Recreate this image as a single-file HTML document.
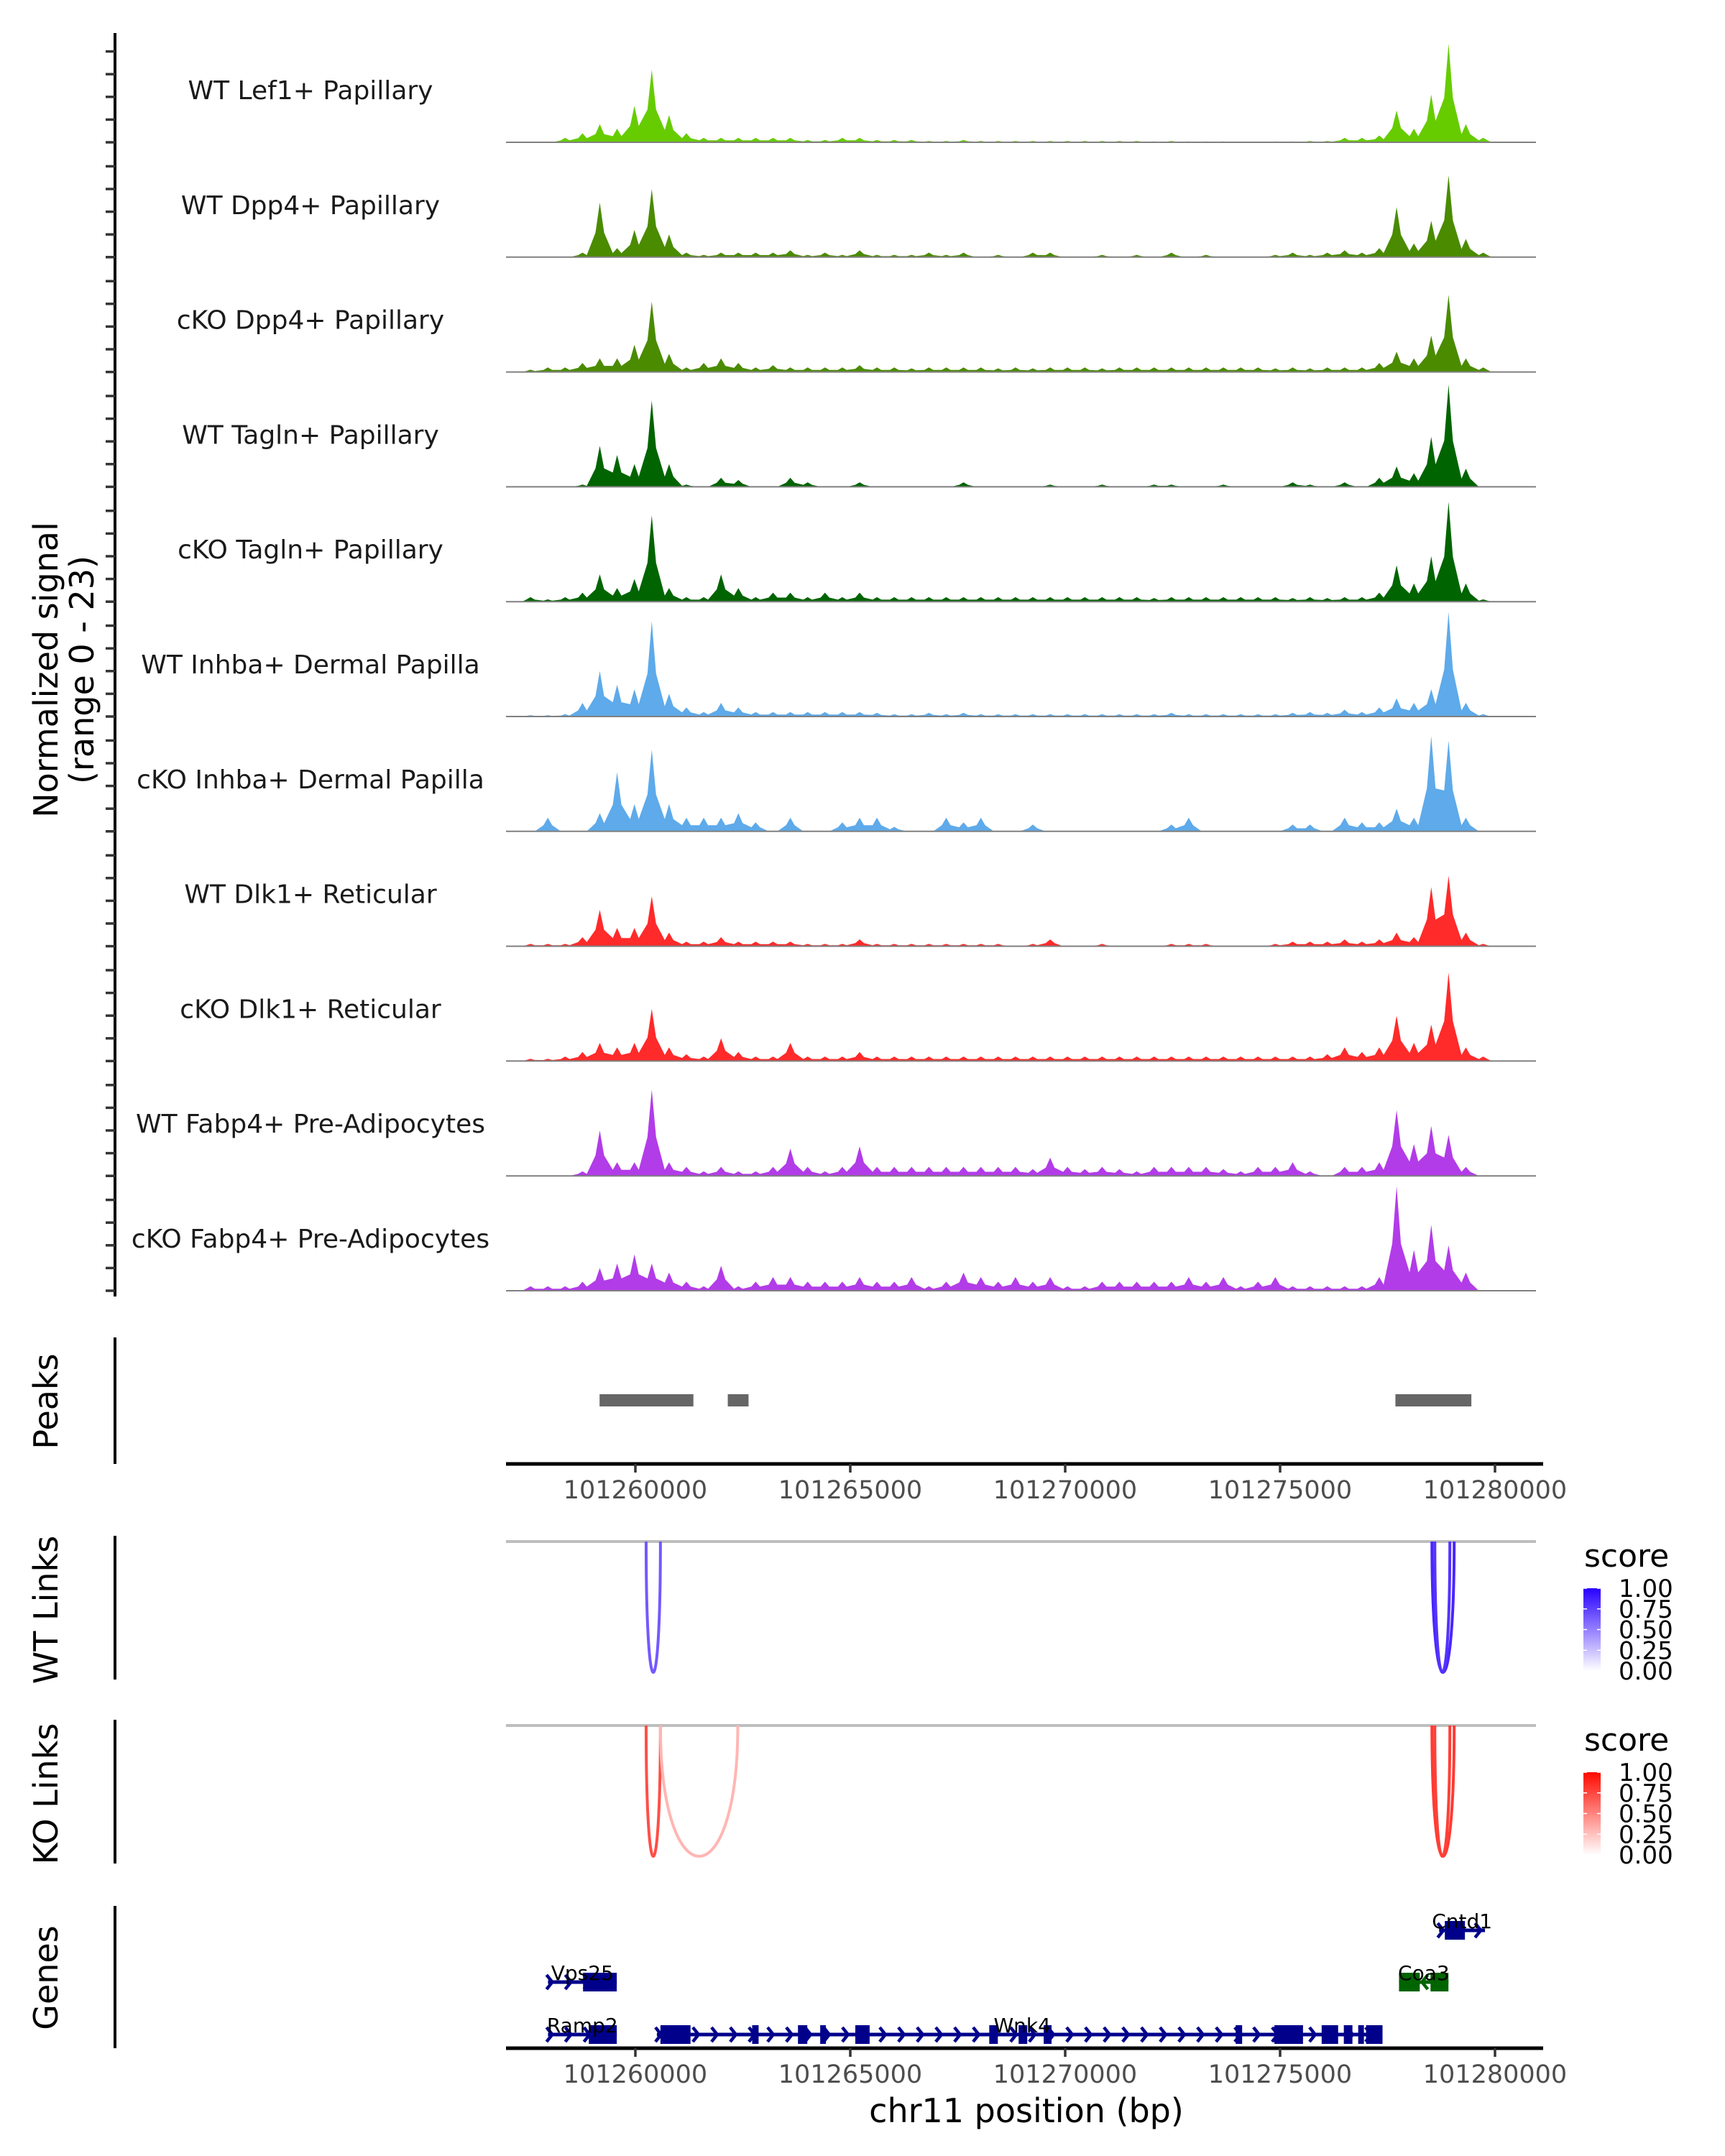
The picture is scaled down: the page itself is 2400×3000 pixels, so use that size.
<!DOCTYPE html>
<html><head><meta charset="utf-8"><style>
html,body{margin:0;padding:0;background:#fff;}
svg{display:block;font-family:"DejaVu Sans","Liberation Sans",sans-serif;}
</style></head><body>
<svg id="chart" width="2400" height="3000" viewBox="0 0 2400 3000" xmlns="http://www.w3.org/2000/svg">
<rect x="0" y="0" width="2400" height="3000" fill="#fff"/>
<g id="tracks"></g>
<g id="yaxis"></g>
<text transform="translate(80,932) rotate(-90)" text-anchor="middle" font-size="46" fill="#000">Normalized signal</text>
<text transform="translate(130,932) rotate(-90)" text-anchor="middle" font-size="46" fill="#000">(range 0 - 23)</text>
<g id="peaks"></g>
<g id="links"></g>
<g id="genes"></g>
<text x="1428" y="2953" text-anchor="middle" font-size="46" fill="#000">chr11 position (bp)</text>
</svg>
<script>
const trackNames = ["WT Lef1+ Papillary","WT Dpp4+ Papillary","cKO Dpp4+ Papillary","WT Tagln+ Papillary","cKO Tagln+ Papillary","WT Inhba+ Dermal Papilla","cKO Inhba+ Dermal Papilla","WT Dlk1+ Reticular","cKO Dlk1+ Reticular","WT Fabp4+ Pre-Adipocytes","cKO Fabp4+ Pre-Adipocytes"];
const trackColors = ["#66cc00","#4a8b00","#4a8b00","#006400","#006400","#5eaaea","#5eaaea","#ff2a2a","#ff2a2a","#b23ce8","#b23ce8"];
const binStartBp = 101257560;
const binSizeBp = 403;
const sigLef1WT = [0,0,1,2,4,3,8,16,6,2,1,1,1,1,1,1,0.5,0.5,1,1,0.5,0.5,0.5,0.3,0.3,0.5,0.3,0.3,0.3,0.3,0.3,0.3,0.3,0.3,0.3,0.3,0.2,0.3,0.2,0.2,0.2,0,0,0.2,0.2,0.3,0.3,1,1,1.5,7,3,10.5,21.7,4,1];
const sigDpp4WT = [0,0,0,1,12,2,6,15,5,1,0.5,1,1,1,1,1.5,0.5,1,0.5,1.5,0.5,0.5,0.5,1,0.5,1,0,0.5,0,1,1,0,0,0.5,0,0.5,0,1,0,0.5,0,0,0,0.5,1,0.5,1,1.5,1,2,11,3,8,18,4,1];
const sigDpp4KO = [0.5,1,1,2,3,3,6,15.5,4,1,2,3,2,1,1.5,1,1,1,1,1.5,1,1,0.8,1,1,1,1,0.8,1,0.8,1,1,1,0.8,1,1,1,1,1,1,1,1,1,0.8,1,0.8,1,1,1,2,4.5,3,8,17,3,1];
const sigTaglnWT = [0,0,0,0.5,9,7,5,19,5,0.5,0,2,1.5,0,0,2,1,0,0,1,0,0,0,0,0,1,0,0,0,0,0.5,0,0,0.5,0,0,0.5,0.5,0,0,0.5,0,0,0,1,0.5,0,1,0,2,4.5,3,11,22.5,4,0];
const sigTaglnKO = [1,0.5,1,2,6,3,5,19,3,1,1,6,3,1,2,2,1,2,1,2,1,1,1,1,1,1,1,1,1,1,1,1,1,1,1,1,0.8,1,1,1,1,1,1,1,0.8,1,0.8,1,1,2,8,4,10,22,4,0.5];
const sigInhbaWT = [0.3,0.3,0.5,3,10,7,6,21,5,2,1,3,2,1,1,1,1,1,1,1,0.8,0.5,0.5,0.8,0.5,0.8,0.5,0.5,0.5,0.5,0.5,0.5,0.5,0.5,0.5,0.5,0.5,0.8,0.5,0.5,0.5,0.5,0.5,0.5,0.8,1,0.8,1.5,1,2,4,3,6,23,3,0.5];
const sigInhbaKO = [0,3,0,0,4,13,6,18,6,3,3,3,4,2,0,3,0,0,2,3,3,1,0,0,3,2,3,0,0,1.5,0,0,0,0,0,0,0,1.5,3,0,0,0,0,0,1.5,1.5,0,3,2,2,5,3,21,20,3,0];
const sigDlk1WT = [0.5,0.5,0.5,2,8,4,4,11,3,1,1,2,1,1,1,1,0.5,0.5,0.5,1.5,0.5,0.5,0.5,0.5,0.5,0.5,0.5,0.5,0,0.5,1.5,0,0,0.5,0,0,0,0.5,0.5,0.5,0,0,0,0.5,1,1,1,1.5,1,1.5,3,2,13,15.5,3,0.5];
const sigDlk1KO = [0.5,0.5,1,2,4,3,4,11.5,3,1.5,1,5,2,1,1,4,1,1,1,2,1,1,1,1,1,1,1,1,1,1,1,1,1,1,1,1,1,1,1,1,1,1,1,1,1,1,1.5,3,2,3,10,4,8,19.5,3,1];
const sigFabp4WT = [0,0,0,1,10,3,3,19,3,2,1,2,1,1,2,6,2,1,2,6.5,2,2,2,2,2,2,2,2,2,1.5,4,2,1.5,2,1.5,1,2,2,2,2,1.5,1,2,2,3,1,0,2,2,3,14.5,7,11,9,2,0];
const sigFabp4KO = [1,1,1,2,5,6,8,6,4,2,1,5.5,1,2,3,3,2,2,2,3,2,2,3,1,2,4,3,2,3,2,3,1,1,2,2,2,2,2,3,2,3,1,2,3,1,1,1,1,1,3,23,9,14.5,10,4,0];
const trackSignals = [sigLef1WT,sigDpp4WT,sigDpp4KO,sigTaglnWT,sigTaglnKO,sigInhbaWT,sigInhbaKO,sigDlk1WT,sigDlk1KO,sigFabp4WT,sigFabp4KO];
const xTicks = [101260000,101265000,101270000,101275000,101280000];
const peakStarts = [101259167,101262150,101277683];
const peakEnds = [101261350,101262633,101279450];
const wtLinkStarts = [101260250,101278533,101278600];
const wtLinkEnds = [101260583,101279050,101278950];
const wtLinkScores = [0.65,0.85,0.8];
const koLinkStarts = [101260250,101260583,101278533,101278600];
const koLinkEnds = [101260583,101262383,101279050,101278950];
const koLinkScores = [0.72,0.3,0.8,0.78];
const legendTicks = ["1.00","0.75","0.50","0.25","0.00"];
const geneNames = ["Cntd1","Vps25","Coa3","Ramp2","Wnk4"];
const geneRows = [0,1,1,2,2];
const geneStarts = [101278700,101257967,101277767,101257967,101260500];
const geneEnds = [101279767,101259567,101278917,101259567,101277383];
const geneStrands = [1,1,-1,1,1];
const geneColors = ["#00008b","#00008b","#006400","#00008b","#00008b"];
const geneExons = [
 [[101278833,101279300]],
 [[101258783,101259567]],
 [[101277767,101278250],[101278500,101278917]],
 [[101258917,101259567]],
 [[101260583,101261283],[101262717,101262867],[101263783,101264000],[101264300,101264433],[101265117,101265450],[101268233,101268433],[101268917,101269117],[101269500,101269683],[101273967,101274117],[101274867,101275533],[101275967,101276350],[101276483,101276683],[101276817,101276950],[101277000,101277383]]
];

const NS="http://www.w3.org/2000/svg";
function mk(tag, attrs, parent){const e=document.createElementNS(NS,tag);for(const k in attrs)e.setAttribute(k,attrs[k]);parent.appendChild(e);return e;}
const xScale = bp => 884 + (bp-101260000)*0.0598;
const yUnit = 6.32;
const base0 = 198, trackStep = 159.8;
const X0=704, X1=2137;

const gT=document.getElementById('tracks');
trackNames.forEach((name,k)=>{
  const base = base0 + k*trackStep;
  const g=mk('g',{},gT);
  
  
  const lab=mk('text',{x:432,y:base-60,'text-anchor':'middle','font-size':36,fill:'#1a1a1a'},g);
  lab.textContent=name;
  
  
  const vals=trackSignals[k];
  const half=binSizeBp/2;
  let d='M'+xScale(binStartBp-half).toFixed(1)+','+base;
  vals.forEach((v,i)=>{
    const c=binStartBp+i*binSizeBp;
    d+=' L'+xScale(c-half*0.5).toFixed(1)+','+(base-v*yUnit*0.45).toFixed(1);
    d+=' L'+xScale(c).toFixed(1)+','+(base-v*yUnit).toFixed(1);
    d+=' L'+xScale(c+half*0.5).toFixed(1)+','+(base-v*yUnit*0.45).toFixed(1);
  });
  d+=' L'+xScale(binStartBp+(vals.length-1)*binSizeBp+half).toFixed(1)+','+base+' Z';
  const p=mk('path',{d:d,fill:trackColors[k]},g);
  
  
  const bl=mk('line',{x1:X0,x2:X1,y1:base,y2:base,stroke:'#808080','stroke-width':2},g);
  
  
});

const gY=document.getElementById('yaxis');
const yl=mk('line',{x1:160,x2:160,y1:46,y2:1804,stroke:'#000','stroke-width':4},gY);


for(let k=0;k<trackNames.length;k++){
  for(let j=0;j<5;j++){
    const y=base0+k*trackStep-j*5*yUnit;
    const t=mk('line',{x1:147,x2:160,y1:y,y2:y,stroke:'#333','stroke-width':3.5},gY);
    
    
  }
}

function xAxis(parent,y){
  const l=mk('line',{x1:X0,x2:X1+10,y1:y,y2:y,stroke:'#000','stroke-width':5},parent);
  
  
  xTicks.forEach(t=>{
    const x=xScale(t);
    const tk=mk('line',{x1:x,x2:x,y1:y,y2:y+12,stroke:'#333','stroke-width':3.5},parent);
    
    
    const tl=mk('text',{x:x,y:y+48,'text-anchor':'middle','font-size':35,fill:'#4d4d4d'},parent);
    tl.textContent=String(t);
    
    
  });
}
function panelTitle(parent,text,cy,name){
  const t=mk('text',{transform:'translate(80,'+cy+') rotate(-90)','text-anchor':'middle','font-size':46,fill:'#000'},parent);
  t.textContent=text;
  
  
}
function leftLine(parent,y1,y2){
  const l=mk('line',{x1:160,x2:160,y1:y1,y2:y2,stroke:'#000','stroke-width':4},parent);
  
  
}

const gP=document.getElementById('peaks');
leftLine(gP,1861,2037);
panelTitle(gP,'Peaks',1950,'peaks-title');
peakStarts.forEach((s,i)=>{
  const r=mk('rect',{x:xScale(s),y:1940,width:xScale(peakEnds[i])-xScale(s),height:17,fill:'#666'},gP);
  
  
});
xAxis(gP,2037);

const gL=document.getElementById('links');
function lerpColor(c,s){const r=Math.round(255+(c[0]-255)*s),g=Math.round(255+(c[1]-255)*s),b=Math.round(255+(c[2]-255)*s);return 'rgb('+r+','+g+','+b+')';}
function linkPanel(starts,ends,scores,top,bottom,col,title,titleName,legTop){
  leftLine(gL,top-8,bottom+10);
  panelTitle(gL,title,(top+bottom)/2+4,titleName);
  const gl=mk('line',{x1:X0,x2:X1,y1:top,y2:top,stroke:'#bebebe','stroke-width':4},gL);
  
  
  const depth=bottom-top;
  starts.forEach((s,i)=>{
    const x1=xScale(s),x2=xScale(ends[i]);
    const d='M'+x1+','+top+' C'+x1+','+(top+depth*1.333)+' '+x2+','+(top+depth*1.333)+' '+x2+','+top;
    const p=mk('path',{d:d,fill:'none',stroke:lerpColor(col,scores[i]),'stroke-width':4},gL);
    
    
  });
  const lg=mk('g',{},gL);
  
  
  const st=mk('text',{x:2204,y:legTop-30,'font-size':44,fill:'#000'},lg);
  st.textContent='score';
  
  
  const gid='grad'+titleName;
  const defs=mk('defs',{},lg);
  const gr=mk('linearGradient',{id:gid,x1:0,y1:1,x2:0,y2:0},defs);
  mk('stop',{offset:'0','stop-color':'#fff'},gr);
  mk('stop',{offset:'1','stop-color':lerpColor(col,1)},gr);
  const bh=115;
  const bar=mk('rect',{x:2203,y:legTop,width:24,height:bh,fill:'url(#'+gid+')'},lg);
  
  
  legendTicks.forEach((t,i)=>{
    const y=legTop+i*bh/4;
    mk('line',{x1:2203,x2:2208,y1:y,y2:y,stroke:'#fff','stroke-width':1.5},lg);
    mk('line',{x1:2222,x2:2227,y1:y,y2:y,stroke:'#fff','stroke-width':1.5},lg);
    const tx=mk('text',{x:2252,y:y+12,'font-size':34,fill:'#000'},lg);
    tx.textContent=t;
    
    
  });
}
linkPanel(wtLinkStarts,wtLinkEnds,wtLinkScores,2145,2327,[40,0,255],'WT Links','wt-links-title',2210);
linkPanel(koLinkStarts,koLinkEnds,koLinkScores,2401,2583,[255,10,0],'KO Links','ko-links-title',2466);

const gG=document.getElementById('genes');
leftLine(gG,2652,2850);
panelTitle(gG,'Genes',2752,'genes-title');
const rowY=[2686,2758,2831];
geneNames.forEach((n,i)=>{
  const g=mk('g',{},gG);
  
  
  const y=rowY[geneRows[i]], c=geneColors[i];
  const xs=xScale(geneStarts[i]), xe=xScale(geneEnds[i]);
  mk('line',{x1:xs,x2:xe,y1:y,y2:y,stroke:c,'stroke-width':5},g);
  for(let x=xs+6;x<xe-4;x+=26){
    const dx=geneStrands[i]*8;
    mk('polyline',{points:(x-dx)+','+(y-10)+' '+x+','+y+' '+(x-dx)+','+(y+10),fill:'none',stroke:c,'stroke-width':4.5},g);
  }
  geneExons[i].forEach(e=>{
    mk('rect',{x:xScale(e[0]),y:y-13,width:xScale(e[1])-xScale(e[0]),height:26,fill:c},g);
  });
  const t=mk('text',{x:(xs+xe)/2,y:y-3,'text-anchor':'middle','font-size':28,fill:'#000'},g);
  if(n==='Wnk4'){t.setAttribute('x',xScale(101269000));}
  if(n==='Ramp2'||n==='Vps25'){t.setAttribute('x',(xs+xe)/2);}
  t.textContent=n;
  
  
});
xAxis(gG,2850);
</script>
</body></html>
